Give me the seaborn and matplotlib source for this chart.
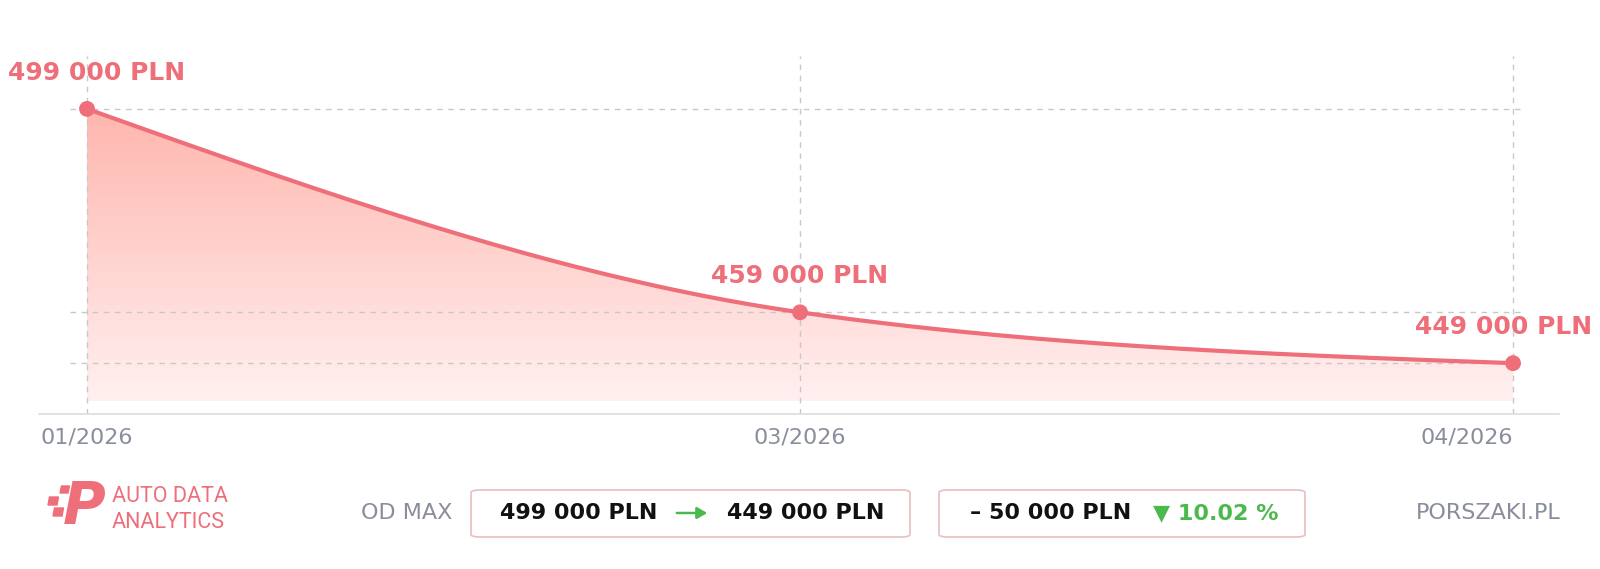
import matplotlib

matplotlib.use("Agg")

import matplotlib.pyplot as plt
import numpy as np
import seaborn as sns
from matplotlib.colors import LinearSegmentedColormap
from matplotlib.patches import FancyArrowPatch, FancyBboxPatch, Polygon

# data
months = ["01/2026", "03/2026", "04/2026"]
prices = [499000, 459000, 449000]
price_labels = ["499 000 PLN", "459 000 PLN", "449 000 PLN"]
start_text = "499 000 PLN"
end_text = "449 000 PLN"
diff_text = "– 50 000 PLN"
pct_text = "▼ 10.02 %"

LINE = "#ee6e7a"
GRAY = "#8a8e9c"
GREEN = "#4cb94c"

sns.set_theme(style="white")
plt.rcParams["font.family"] = ["DejaVu Sans"]


def monotone_curve(xs, ys, n=80):
    # monotone cubic (same idea as d3 curveMonotoneX)
    xs = np.asarray(xs, float)
    ys = np.asarray(ys, float)
    h = np.diff(xs)
    s = np.diff(ys) / h
    m = np.zeros(len(xs))
    for i in range(1, len(xs) - 1):
        if s[i - 1] * s[i] <= 0:
            m[i] = 0.0
        else:
            p = (s[i - 1] * h[i] + s[i] * h[i - 1]) / (h[i - 1] + h[i])
            m[i] = (np.sign(s[i - 1]) + np.sign(s[i])) * min(abs(s[i - 1]), abs(s[i]), 0.5 * abs(p))
    m[0] = (3 * s[0] - m[1]) / 2
    m[-1] = (3 * s[-1] - m[-2]) / 2
    out_x, out_y = [], []
    for i in range(len(h)):
        t = np.linspace(0, 1, n)
        h00 = 2 * t**3 - 3 * t**2 + 1
        h10 = t**3 - 2 * t**2 + t
        h01 = -2 * t**3 + 3 * t**2
        h11 = t**3 - t**2
        out_x.append(xs[i] + t * h[i])
        out_y.append(h00 * ys[i] + h10 * h[i] * m[i] + h01 * ys[i + 1] + h11 * h[i] * m[i + 1])
    return np.concatenate(out_x), np.concatenate(out_y)


x_idx = np.arange(len(months))
cx, cy = monotone_curve(x_idx, prices)

fig = plt.figure(figsize=(16, 5.69), dpi=100)
ax = fig.add_axes([0.0244, 0.2724, 0.95, 0.6292])

ymin, ymax = 439000, 509400
fill_base = 441500
ax.set_xlim(-0.0673, 2.0645)
ax.set_ylim(ymin, ymax)

# gradient area under the curve
cmap = LinearSegmentedColormap.from_list("grad", ["#fff0f0", "#ffb6ae"])
grad = np.linspace(0, 1, 256).reshape(-1, 1)
img = ax.imshow(grad, extent=[x_idx[0], x_idx[-1], fill_base, prices[0]], origin="lower",
                aspect="auto", cmap=cmap, zorder=1)
poly = Polygon(np.column_stack([np.r_[cx, cx[-1], cx[0]], np.r_[cy, fill_base, fill_base]]),
               closed=True, facecolor="none", edgecolor="none")
ax.add_patch(poly)
img.set_clip_path(poly)

# grid, drawn over the fill
for xv in x_idx:
    ax.axvline(xv, color="#c8c8c8", lw=1, ls=(0, (4, 4)), zorder=2)
ax.hlines(prices, -0.024, 2.017, color="#c8c8c8", lw=1, ls=(0, (4, 4)), zorder=2)

ax.plot(cx, cy, color=LINE, lw=3, zorder=3, solid_capstyle="round")
sns.scatterplot(x=x_idx, y=prices, ax=ax, color=LINE, s=130, edgecolor="none", zorder=4, legend=False)

label_offsets = [(-57, "left"), (0, "center"), (57, "right")]
for xi, yi, lab, (dx, ha) in zip(x_idx, prices, price_labels, label_offsets):
    ax.annotate(lab, (xi, yi), xytext=(dx, 26), textcoords="offset points", ha=ha, va="center",
                fontsize=18, fontweight="bold", color=LINE)

for side in ["left", "right", "top"]:
    ax.spines[side].set_visible(False)
ax.spines["bottom"].set_color("#dddddd")
ax.spines["bottom"].set_linewidth(1.2)
ax.set_yticks([])
ax.set_xticks(x_idx)
ax.set_xticklabels(months, fontsize=16, color=GRAY)
ax.tick_params(axis="x", length=0, pad=10)
for tl, ha in zip(ax.get_xticklabels(), ["center", "center", "right"]):
    tl.set_ha(ha)
ax.set_xlabel("")
ax.set_ylabel("")


# footer
def fy(y):
    return 1 - y / 569


def fx(x):
    return x / 1600


yc = fy(513)

# logo
for (x0, y0, w, hh) in [(60, 486, 8, 7), (48, 497, 9, 8), (53, 508, 9, 8)]:
    fig.patches.append(Polygon([[fx(x0 + 1.5), fy(y0)], [fx(x0 + w + 1.5), fy(y0)],
                                [fx(x0 + w), fy(y0 + hh)], [fx(x0), fy(y0 + hh)]],
                               closed=True, transform=fig.transFigure, color=LINE))
fig.text(fx(63), fy(507), "P", fontsize=42, fontweight="bold", fontstyle="italic", color=LINE,
         ha="left", va="center", family=["DejaVu Sans"])
fig.text(fx(112), fy(497), "AUTO DATA", fontsize=15.5, color=LINE, ha="left", va="center", family=["Roboto"])
fig.text(fx(112), fy(522), "ANALYTICS", fontsize=15.5, color=LINE, ha="left", va="center", family=["Roboto"])

fig.text(fx(452), yc, "OD MAX", fontsize=16, color=GRAY, ha="right", va="center")

for (x0, x1) in [(471, 910), (939, 1305)]:
    fig.patches.append(FancyBboxPatch((fx(x0), fy(537)), fx(x1 - x0), 47 / 569,
                                      boxstyle="round,pad=0,rounding_size=0.005",
                                      transform=fig.transFigure, facecolor="white",
                                      edgecolor="#e9c3c3", lw=1.3))

fig.text(fx(500), yc, start_text, fontsize=16, fontweight="bold", color="#111111", ha="left", va="center")
fig.text(fx(727), yc, end_text, fontsize=16, fontweight="bold", color="#111111", ha="left", va="center")
fig.patches.append(FancyArrowPatch((fx(674), yc), (fx(710), yc), transform=fig.transFigure,
                                   arrowstyle="-|>,head_length=6,head_width=3.5",
                                   color=GREEN, lw=1.8))
fig.text(fx(970), yc, diff_text, fontsize=16, fontweight="bold", color="#111111", ha="left", va="center")
fig.text(fx(1153), yc, pct_text, fontsize=16, fontweight="bold", color=GREEN, ha="left", va="center")

fig.text(fx(1561), yc, "PORSZAKI.PL", fontsize=16, color=GRAY, ha="right", va="center")

fig.savefig("out.png", dpi=100, facecolor="white")
